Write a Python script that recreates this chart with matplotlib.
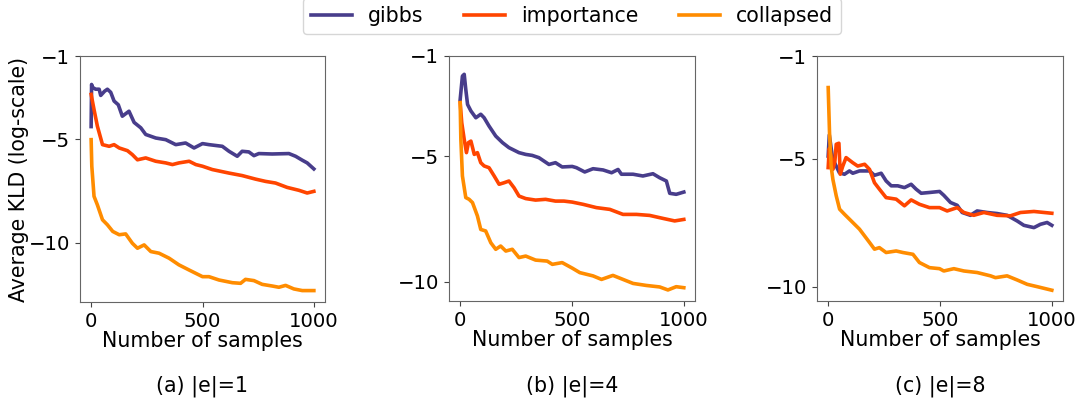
import matplotlib
matplotlib.use("Agg")
import matplotlib.pyplot as plt

# ---------------- data ----------------
methods = ["gibbs", "importance", "collapsed"]
colors = ["#483D8B", "#FF4500", "#FF8C00"]
captions = ["(a) |e|=1", "(b) |e|=4", "(c) |e|=8"]
y_ticks = [-1, -5, -10]
x_ticks = [0, 500, 1000]

# Panel (a) |e|=1
p1_gibbs_x = [0, 2, 5, 20, 36, 43, 60, 73, 88, 103, 122, 140, 170, 193, 223, 245, 290, 335, 380,
              424, 462, 500, 529, 589, 619, 656, 678, 708, 731, 753, 813, 888, 918, 948, 970, 1000]
p1_gibbs_y = [-4.4, -2.37, -2.5, -2.6, -2.6, -2.9, -2.7, -2.6, -2.75, -3.17, -3.35, -3.9, -3.66, -4.2,
              -4.46, -4.78, -4.95, -5.03, -5.27, -5.19, -5.43, -5.22, -5.27, -5.35, -5.59, -5.83, -5.59,
              -5.62, -5.8, -5.7, -5.72, -5.7, -5.83, -6.02, -6.15, -6.44]
p1_imp_x = [0, 13, 28, 51, 81, 103, 126, 163, 185, 208, 245, 290, 335, 365, 394, 440, 470, 500, 544,
            619, 678, 738, 783, 828, 880, 933, 970, 1000]
p1_imp_y = [-2.85, -3.58, -4.38, -5.27, -5.35, -5.27, -5.43, -5.56, -5.75, -6.0, -5.91, -6.07, -6.15,
            -6.23, -6.15, -6.07, -6.23, -6.31, -6.47, -6.64, -6.76, -6.93, -7.04, -7.12, -7.33, -7.47,
            -7.6, -7.52]
p1_col_x = [0, 3, 13, 28, 51, 73, 97, 126, 155, 185, 208, 238, 268, 305, 350, 394, 440, 500, 529, 574,
            634, 671, 693, 731, 768, 813, 843, 873, 910, 948, 1000]
p1_col_y = [-5.03, -6.31, -7.76, -8.17, -8.89, -9.13, -9.45, -9.61, -9.57, -10.02, -10.26, -10.1,
            -10.42, -10.5, -10.74, -11.06, -11.31, -11.63, -11.63, -11.79, -11.92, -11.95, -11.76,
            -11.82, -12.0, -12.08, -12.14, -12.05, -12.22, -12.3, -12.3]

# Panel (b) |e|=4
p2_gibbs_x = [0, 10, 18, 25, 33, 48, 70, 92, 107, 129, 159, 189, 218, 263, 293, 322, 352, 397, 426,
              456, 501, 520, 557, 594, 639, 677, 706, 721, 773, 817, 862, 892, 922, 937, 966, 1000]
p2_gibbs_y = [-2.73, -1.8, -1.73, -2.33, -2.93, -3.19, -3.46, -3.32, -3.46, -3.79, -4.19, -4.45,
              -4.65, -4.85, -4.92, -4.96, -5.05, -5.32, -5.25, -5.42, -5.4, -5.45, -5.62, -5.49, -5.54,
              -5.65, -5.52, -5.71, -5.71, -5.78, -5.69, -5.85, -5.98, -6.47, -6.51, -6.42]
p2_imp_x = [0, 7, 18, 28, 37, 48, 63, 77, 92, 107, 129, 152, 174, 196, 218, 241, 263, 293, 337, 382,
            426, 464, 501, 550, 609, 669, 728, 788, 847, 907, 959, 1000]
p2_imp_y = [-2.86, -3.66, -4.32, -4.85, -4.45, -4.39, -4.92, -4.85, -5.25, -5.38, -5.45, -5.78, -6.11,
            -6.05, -5.98, -6.25, -6.58, -6.68, -6.74, -6.71, -6.78, -6.78, -6.82, -6.91, -7.04, -7.11,
            -7.31, -7.31, -7.35, -7.47, -7.57, -7.51]
p2_col_x = [0, 3, 10, 25, 40, 55, 77, 92, 114, 137, 159, 181, 204, 233, 263, 293, 337, 389, 412, 456,
            501, 535, 594, 632, 683, 728, 773, 832, 892, 929, 966, 1000]
p2_col_y = [-2.86, -4.32, -5.78, -6.64, -6.71, -6.84, -7.37, -7.91, -7.97, -8.44, -8.7, -8.57, -8.77,
            -8.7, -9.03, -8.97, -9.13, -9.17, -9.3, -9.23, -9.45, -9.63, -9.76, -9.9, -9.74, -9.9,
            -10.06, -10.14, -10.2, -10.32, -10.19, -10.23]

# Panel (c) |e|=8
p3_gibbs_x = [0, 5, 20, 50, 73, 95, 110, 140, 185, 207, 237, 259, 282, 311, 341, 371, 393, 416, 453,
              498, 517, 547, 577, 599, 636, 666, 711, 755, 800, 845, 875, 920, 949, 979, 1000]
p3_gibbs_y = [-4.9, -4.08, -5.0, -5.55, -5.61, -5.48, -5.57, -5.48, -5.48, -5.65, -5.57, -5.87, -6.06,
              -6.06, -6.13, -6.0, -6.19, -6.35, -6.32, -6.28, -6.43, -6.71, -6.82, -7.1, -7.21, -7.04,
              -7.1, -7.14, -7.21, -7.43, -7.6, -7.69, -7.56, -7.49, -7.6]
p3_imp_x = [0, 5, 13, 21, 30, 36, 48, 54, 65, 80, 110, 132, 163, 185, 207, 229, 259, 304, 341, 371,
            408, 453, 498, 532, 577, 607, 651, 696, 755, 815, 860, 920, 1000]
p3_imp_y = [-5.35, -4.6, -4.9, -5.42, -5.1, -4.44, -4.4, -5.61, -5.3, -4.96, -5.16, -5.29, -5.22,
            -5.42, -5.94, -6.19, -6.52, -6.58, -6.84, -6.61, -6.78, -6.91, -6.91, -7.04, -6.91, -7.1,
            -7.21, -7.1, -7.21, -7.23, -7.1, -7.06, -7.13]
p3_col_x = [0, 6, 13, 21, 36, 51, 73, 95, 140, 185, 207, 229, 259, 304, 334, 379, 408, 453, 498, 517,
            562, 607, 666, 726, 748, 800, 845, 890, 934, 1000]
p3_col_y = [-2.23, -3.99, -5.29, -5.81, -6.45, -6.97, -7.17, -7.36, -7.75, -8.27, -8.53, -8.47, -8.66,
            -8.6, -8.66, -8.73, -9.05, -9.25, -9.29, -9.38, -9.29, -9.38, -9.44, -9.57, -9.64, -9.57,
            -9.73, -9.9, -9.99, -10.13]

panels = [
    [(p1_gibbs_x, p1_gibbs_y), (p1_imp_x, p1_imp_y), (p1_col_x, p1_col_y)],
    [(p2_gibbs_x, p2_gibbs_y), (p2_imp_x, p2_imp_y), (p2_col_x, p2_col_y)],
    [(p3_gibbs_x, p3_gibbs_y), (p3_imp_x, p3_imp_y), (p3_col_x, p3_col_y)],
]
y_bottoms = [-12.85, -10.76, -10.55]

# ---------------- figure ----------------
FS = 14.8
TFS = 14.2
W, H = 1082, 404
fig = plt.figure(figsize=(W / 100, H / 100), dpi=100)

axes_px = [(80, 56, 245, 246), (449, 56, 246, 245), (817, 56, 246, 245)]
handles = []
for i, (px, py, pw, ph) in enumerate(axes_px):
    ax = fig.add_axes([px / W, 1 - (py + ph) / H, pw / W, ph / H])
    for j, (xs, ys) in enumerate(panels[i]):
        ln, = ax.plot(xs, ys, color=colors[j], lw=2.6, label=methods[j])
        if i == 0:
            handles.append(ln)
    ax.set_xlim(-50, 1050)
    ax.set_ylim(y_bottoms[i], -1)
    ax.set_xticks(x_ticks)
    ax.set_yticks(y_ticks)
    ax.tick_params(labelsize=TFS, color="#444444", length=3.5)
    for s in ax.spines.values():
        s.set_color("#666666")
    ax.set_xlabel("Number of samples", fontsize=FS, labelpad=0)
    if i == 0:
        ax.set_ylabel("Average KLD (log-scale)", fontsize=FS, labelpad=0)
    fig.text((px + pw / 2) / W, (H - 386) / H, captions[i], ha="center", va="center", fontsize=FS)

mid_px = axes_px[1][0] + axes_px[1][2] / 2
fig.legend(handles=handles, loc="upper center", bbox_to_anchor=(mid_px / W, 1.005), ncol=3,
           fontsize=FS, frameon=True, columnspacing=2.0, handletextpad=0.75, borderaxespad=0.0)

fig.savefig("out.png", dpi=100)
